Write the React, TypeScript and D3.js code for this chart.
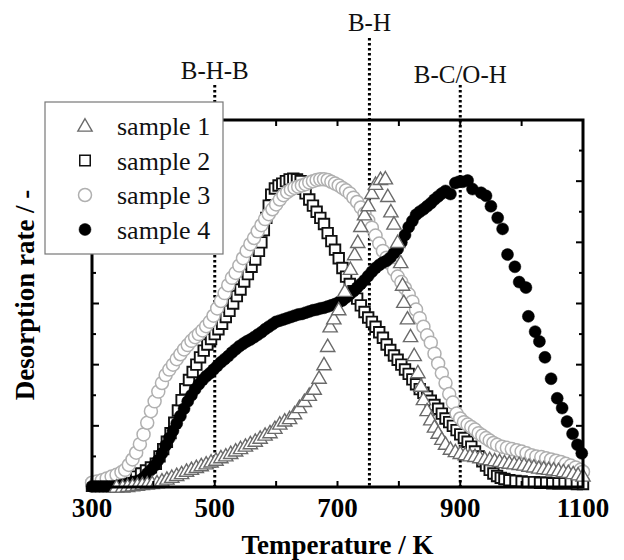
import * as d3 from 'd3'
import React from 'react'

// [temperature K, desorption rate (normalised)]
const sample1: [number, number][] = [
  [340, 0.0], [350, 0.0], [358, 0.01], [366, 0.02], [374, 0.03], [382, 0.04], [390, 0.05], [398, 0.06],
  [406, 0.07], [414, 0.1], [422, 0.13], [430, 0.16], [438, 0.19], [446, 0.22], [454, 0.26], [462, 0.29],
  [470, 0.32], [478, 0.35], [486, 0.38], [494, 0.41], [502, 0.44], [510, 0.48], [518, 0.51], [526, 0.55],
  [534, 0.59], [542, 0.63], [550, 0.67], [558, 0.71], [566, 0.75], [574, 0.8], [582, 0.85], [590, 0.89],
  [598, 0.96], [606, 1.03], [614, 1.08], [622, 1.12], [630, 1.2], [638, 1.3], [646, 1.4], [654, 1.5],
  [662, 1.6], [670, 1.78], [678, 2.0], [684, 2.3], [688, 2.62], [694, 2.75], [702, 2.9], [712, 3.2],
  [721, 3.56], [728, 3.8], [733, 4.0], [738, 4.26], [744, 4.45], [750, 4.6], [756, 4.8], [762, 4.95],
  [770, 5.03], [778, 5.04], [782, 4.75], [787, 4.5], [792, 4.3], [798, 4.0], [803, 3.67], [806, 3.3],
  [808, 3.02], [814, 2.75], [819, 2.46], [825, 2.15], [831, 1.87], [836, 1.65], [840, 1.43], [846, 1.25],
  [852, 1.1], [858, 0.98], [864, 0.88], [870, 0.78], [876, 0.7], [884, 0.62], [892, 0.58], [900, 0.55],
  [908, 0.53], [916, 0.51], [924, 0.5], [932, 0.48], [940, 0.46], [948, 0.45], [956, 0.43], [964, 0.42],
  [972, 0.4], [980, 0.39], [988, 0.38], [996, 0.37], [1004, 0.36], [1012, 0.34], [1020, 0.33], [1028, 0.31],
  [1036, 0.3], [1044, 0.29], [1052, 0.28], [1060, 0.27], [1068, 0.25], [1076, 0.24], [1084, 0.22],
  [1092, 0.2], [1100, 0.18],
]

const sample2: [number, number][] = [
  [300, 0.02], [308, 0.02], [316, 0.02], [324, 0.03], [332, 0.03], [340, 0.04], [348, 0.06], [356, 0.09],
  [364, 0.13], [372, 0.17], [380, 0.22], [388, 0.27], [396, 0.32], [404, 0.38], [410, 0.5], [416, 0.62],
  [422, 0.74], [428, 0.88], [434, 1.05], [440, 1.25], [446, 1.42], [452, 1.6], [458, 1.75], [464, 1.88],
  [470, 2.0], [476, 2.12], [482, 2.23], [488, 2.33], [494, 2.42], [500, 2.5], [506, 2.58], [512, 2.67],
  [518, 2.78], [524, 2.88], [530, 3.0], [536, 3.12], [542, 3.23], [548, 3.36], [554, 3.48], [560, 3.6],
  [566, 3.72], [572, 3.86], [576, 4.0], [580, 4.2], [584, 4.4], [588, 4.6], [592, 4.78], [598, 4.88],
  [604, 4.93], [610, 4.96], [616, 5.0], [622, 5.03], [628, 5.04], [634, 5.03], [640, 5.0], [644, 4.88],
  [648, 4.8], [654, 4.7], [660, 4.6], [666, 4.5], [672, 4.4], [678, 4.3], [684, 4.15], [690, 4.02],
  [696, 3.88], [702, 3.74], [708, 3.58], [714, 3.44], [720, 3.32], [726, 3.2], [732, 3.08], [738, 2.97],
  [744, 2.86], [750, 2.77], [756, 2.7], [762, 2.62], [768, 2.53], [774, 2.44], [780, 2.33], [786, 2.24],
  [792, 2.15], [798, 2.08], [804, 2.0], [810, 1.92], [816, 1.85], [822, 1.76], [828, 1.68], [834, 1.6],
  [840, 1.54], [846, 1.48], [852, 1.41], [858, 1.34], [864, 1.28], [870, 1.2], [876, 1.12], [882, 1.06],
  [888, 1.0], [894, 0.93], [900, 0.86], [906, 0.8], [912, 0.74], [918, 0.66], [924, 0.58], [930, 0.5],
  [936, 0.42], [942, 0.35], [948, 0.28], [954, 0.22], [960, 0.18], [966, 0.15], [972, 0.13], [980, 0.11],
  [990, 0.1], [1000, 0.09], [1010, 0.08], [1020, 0.08], [1030, 0.07], [1040, 0.07], [1050, 0.06],
  [1060, 0.06], [1070, 0.06], [1080, 0.06], [1090, 0.05], [1100, 0.05],
]

const sample3: [number, number][] = [
  [300, 0.07], [308, 0.09], [316, 0.11], [324, 0.14], [332, 0.17], [340, 0.2], [348, 0.24], [354, 0.28],
  [360, 0.36], [366, 0.45], [372, 0.56], [378, 0.7], [384, 0.86], [390, 1.05], [396, 1.24], [402, 1.4],
  [408, 1.56], [414, 1.7], [420, 1.83], [426, 1.92], [432, 2.0], [438, 2.09], [444, 2.17], [450, 2.25],
  [456, 2.32], [462, 2.39], [468, 2.45], [474, 2.5], [480, 2.56], [486, 2.63], [492, 2.7], [498, 2.8],
  [504, 2.92], [510, 3.04], [516, 3.17], [522, 3.3], [528, 3.42], [534, 3.5], [540, 3.62], [546, 3.74],
  [552, 3.86], [558, 3.97], [564, 4.07], [570, 4.18], [576, 4.28], [582, 4.38], [588, 4.46], [594, 4.54],
  [600, 4.62], [606, 4.7], [612, 4.77], [618, 4.82], [624, 4.86], [630, 4.89], [636, 4.91], [642, 4.93],
  [648, 4.95], [654, 4.98], [660, 5.0], [666, 5.02], [672, 5.03], [678, 5.03], [684, 5.02], [690, 4.99],
  [696, 4.96], [702, 4.93], [708, 4.89], [714, 4.85], [720, 4.8], [726, 4.73], [732, 4.66], [738, 4.57],
  [744, 4.47], [750, 4.36], [756, 4.24], [762, 4.11], [768, 3.98], [774, 3.86], [780, 3.75], [786, 3.65],
  [792, 3.55], [798, 3.44], [804, 3.35], [810, 3.25], [816, 3.15], [822, 3.03], [828, 2.9], [834, 2.76],
  [840, 2.62], [846, 2.48], [852, 2.36], [858, 2.18], [864, 2.02], [870, 1.86], [876, 1.7], [882, 1.52],
  [888, 1.38], [894, 1.2], [900, 1.12], [906, 1.06], [912, 1.02], [918, 0.98], [924, 0.94], [930, 0.88],
  [936, 0.84], [942, 0.8], [948, 0.76], [954, 0.72], [960, 0.69], [968, 0.66], [976, 0.64], [984, 0.62],
  [992, 0.6], [1000, 0.58], [1008, 0.55], [1016, 0.52], [1024, 0.5], [1032, 0.49], [1040, 0.47],
  [1048, 0.45], [1056, 0.43], [1064, 0.41], [1072, 0.38], [1080, 0.35], [1088, 0.32], [1096, 0.28],
  [1100, 0.25],
]

const sample4: [number, number][] = [
  [300, 0.01], [306, 0.01], [312, 0.01], [318, 0.01], [324, 0.01], [330, 0.01], [336, 0.01], [342, 0.02],
  [348, 0.03], [354, 0.04], [360, 0.06], [366, 0.08], [372, 0.09], [378, 0.11], [384, 0.15], [390, 0.22],
  [396, 0.28], [402, 0.35], [408, 0.44], [414, 0.55], [420, 0.68], [426, 0.8], [432, 0.92], [438, 1.04],
  [444, 1.16], [450, 1.28], [456, 1.4], [462, 1.5], [468, 1.6], [474, 1.68], [480, 1.75], [486, 1.81],
  [492, 1.86], [498, 1.92], [504, 1.98], [510, 2.04], [516, 2.09], [522, 2.14], [528, 2.2], [534, 2.25],
  [540, 2.3], [546, 2.34], [552, 2.38], [558, 2.41], [564, 2.45], [570, 2.49], [576, 2.53], [582, 2.58],
  [588, 2.62], [594, 2.66], [600, 2.7], [606, 2.72], [612, 2.74], [618, 2.76], [624, 2.78], [630, 2.8],
  [636, 2.82], [642, 2.83], [648, 2.85], [654, 2.87], [660, 2.89], [666, 2.9], [672, 2.92], [678, 2.93],
  [684, 2.95], [690, 2.97], [696, 2.99], [702, 3.02], [708, 3.05], [714, 3.1], [720, 3.15], [726, 3.2],
  [732, 3.26], [738, 3.32], [744, 3.38], [750, 3.45], [756, 3.52], [762, 3.58], [768, 3.63], [774, 3.67],
  [780, 3.7], [786, 3.75], [792, 3.82], [798, 3.89], [804, 4.0], [810, 4.12], [816, 4.25], [822, 4.35],
  [828, 4.45], [834, 4.5], [840, 4.54], [846, 4.59], [852, 4.64], [858, 4.7], [864, 4.75], [870, 4.8],
  [876, 4.84], [884, 4.79], [892, 4.97], [898, 4.99], [904, 4.99], [912, 5.01], [920, 4.87], [934, 4.81],
  [942, 4.76], [950, 4.59], [961, 4.4], [969, 4.22], [977, 3.8], [989, 3.6], [996, 3.35], [1007, 3.26],
  [1011, 2.79], [1022, 2.54], [1029, 2.38], [1038, 2.12], [1048, 1.77], [1058, 1.45], [1066, 1.29],
  [1074, 1.07], [1083, 0.87], [1091, 0.69], [1098, 0.55],
]

const legendLabels = ['sample 1', 'sample 2', 'sample 3', 'sample 4']
const xTickLabels = [300, 500, 700, 900, 1100]
const bondLines: { label: string; T: number; top: number; labelY: number }[] = [
  { label: 'B-H-B', T: 500, top: 85, labelY: 79 },
  { label: 'B-H', T: 752, top: 38, labelY: 31 },
  { label: 'B-C/O-H', T: 900, top: 85, labelY: 83 },
]

const FONT = '"Liberation Serif", "Times New Roman", serif'
const PLOT = { left: 92, right: 583, top: 120, bottom: 487 }

const x = d3.scaleLinear().domain([300, 1100]).range([PLOT.left, PLOT.right])
const y = d3.scaleLinear().domain([0, 6]).range([PLOT.bottom, PLOT.top])

const triPath = d3.symbol(d3.symbolTriangle, 88)() as string
const sqPath = d3.symbol(d3.symbolSquare, 110)() as string

const styles = [
  { kind: 'tri', stroke: '#6a6a6a', fill: '#fff', width: 1.4 },
  { kind: 'sq', stroke: '#111', fill: '#fff', width: 1.9 },
  { kind: 'circ', stroke: '#b0b0b0', fill: '#fff', width: 1.5 },
  { kind: 'dot', stroke: '#000', fill: '#000', width: 0.5 },
]

const Marker = ({ kind, cx, cy, stroke, fill, width }: any) => {
  if (kind === 'tri') return <path d={triPath} transform={`translate(${cx},${cy + 1})`} fill={fill} stroke={stroke} strokeWidth={width} />
  if (kind === 'sq') return <path d={sqPath} transform={`translate(${cx},${cy})`} fill={fill} stroke={stroke} strokeWidth={width} />
  if (kind === 'circ') return <circle cx={cx} cy={cy} r={6.5} fill={fill} stroke={stroke} strokeWidth={width} />
  return <circle cx={cx} cy={cy} r={6} fill={fill} stroke={stroke} strokeWidth={width} />
}

const Series = ({ data, style }: any) => (
  <g>
    {data.map((d: [number, number], i: number) => (
      <Marker key={i} {...style} cx={x(d[0])} cy={y(d[1])} />
    ))}
  </g>
)

export default function App() {
  const xTicks = d3.range(300, 1101, 100)
  const yTicks = d3.range(0, 6.01, 0.5)
  const series = [sample1, sample2, sample3, sample4]
  // draw order: squares, circles, dots, triangles
  const order = [1, 2, 3, 0]

  return (
    <svg width={624} height={560} style={{ position: 'absolute', left: 0, top: 0, background: '#fff' }} fontFamily={FONT}>
      <rect width={624} height={560} fill="#fff" />

      {/* dotted bond lines */}
      {bondLines.map(b => (
        <g key={b.label}>
          <line x1={x(b.T)} x2={x(b.T)} y1={b.top} y2={PLOT.bottom} stroke="#000" strokeWidth={3} strokeDasharray="2.6 2.4" />
          <text x={x(b.T)} y={b.labelY} textAnchor="middle" fontSize={25} fill="#111">{b.label}</text>
        </g>
      ))}

      {order.map(i => (
        <Series key={i} data={series[i]} style={styles[i]} />
      ))}

      {/* frame */}
      <rect x={PLOT.left} y={PLOT.top} width={PLOT.right - PLOT.left} height={PLOT.bottom - PLOT.top} fill="none" stroke="#000" strokeWidth={3} />

      {xTicks.map(t => (
        <g key={t}>
          <line x1={x(t)} x2={x(t)} y1={PLOT.bottom} y2={PLOT.bottom - 6} stroke="#000" strokeWidth={2} />
          <line x1={x(t)} x2={x(t)} y1={PLOT.top} y2={PLOT.top + 6} stroke="#000" strokeWidth={2} />
        </g>
      ))}
      {yTicks.map(t => {
        const len = Number.isInteger(t) ? 7 : 4
        return (
          <g key={t}>
            <line x1={PLOT.left} x2={PLOT.left + len} y1={y(t)} y2={y(t)} stroke="#000" strokeWidth={2} />
            <line x1={PLOT.right} x2={PLOT.right - len} y1={y(t)} y2={y(t)} stroke="#000" strokeWidth={2} />
          </g>
        )
      })}

      {xTickLabels.map(t => (
        <text key={t} x={x(t)} y={517} textAnchor="middle" fontSize={27} fontWeight="bold">{t}</text>
      ))}

      <text x={(PLOT.left + PLOT.right) / 2} y={554} textAnchor="middle" fontSize={27} fontWeight="bold">Temperature / K</text>
      <text transform="translate(34,295) rotate(-90)" textAnchor="middle" fontSize={27} fontWeight="bold">Desorption rate / -</text>

      {/* legend */}
      <rect x={45} y={102} width={178} height={152} fill="#fff" stroke="#777" strokeWidth={1.2} />
      {legendLabels.map((l, i) => {
        const ly = 126 + i * 34.5
        return (
          <g key={l}>
            <Marker {...styles[i]} width={Math.min(styles[i].width, 1.5)} cx={85} cy={ly} />
            <text x={117} y={ly + 9} fontSize={26} fill="#111">{l}</text>
          </g>
        )
      })}
    </svg>
  )
}
